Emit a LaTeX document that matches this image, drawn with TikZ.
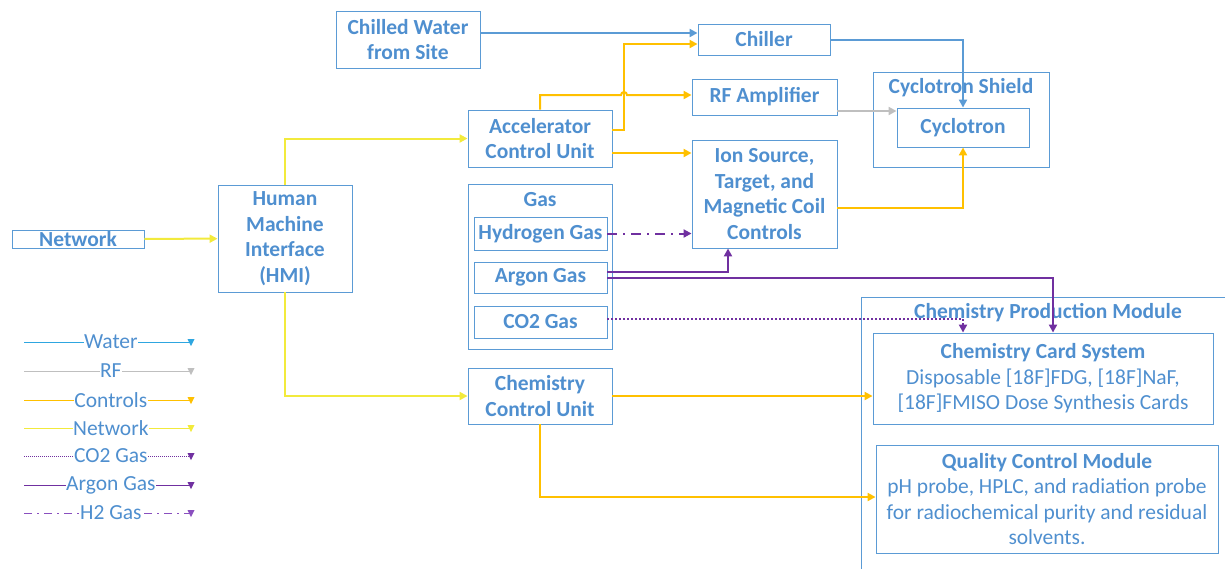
\documentclass[tikz,border=0pt]{standalone}
\usepackage{fontspec}
\setmainfont{Carlito}
\usetikzlibrary{arrows.meta,calc}
\definecolor{boxblue}{HTML}{5B9BD5}
\definecolor{txtblue}{HTML}{4F8FCF}
\definecolor{ctrlc}{HTML}{FFC000}
\definecolor{netc}{HTML}{F2EA3C}
\definecolor{rfc}{HTML}{BFBFBF}
\definecolor{gasc}{HTML}{7030A0}
\definecolor{h2c}{HTML}{8A4FBF}
\definecolor{legwater}{HTML}{2EA6E0}
\tikzset{
  box/.style={draw=boxblue, line width=0.9pt, rectangle, inner sep=0pt, text=txtblue,
     font=\fontsize{21.5}{25.5}\selectfont\bfseries, align=center},
  lbl/.style={text=txtblue, font=\fontsize{21.5}{25.5}\selectfont\bfseries, inner sep=0pt},
  tip/.style={-{Triangle[length=8pt,width=8pt]}},
  water/.style={draw=boxblue, line width=2pt, tip},
  ctrl/.style={draw=ctrlc, line width=2pt, tip},
  netw/.style={draw=netc, line width=2pt, tip},
  rf/.style={draw=rfc, line width=2pt, tip},
  argon/.style={draw=gasc, line width=2pt, tip},
  co2/.style={draw=gasc, line width=2pt, dotted, tip},
  htwo/.style={draw=gasc, line width=2pt, dash pattern=on 10pt off 6pt on 2pt off 6pt, tip},
  legsolid/.style={},
  legdot/.style={densely dotted},
  legdash/.style={dash pattern=on 8pt off 5pt on 2pt off 5pt},
  legtext/.style={fill=white, text=txtblue, font=\fontsize{21.5}{22}\selectfont, inner sep=0.5pt}
}
\begin{document}
\begin{tikzpicture}[x=1pt,y=-1pt]
\useasboundingbox (0,0) rectangle (1225,568);
% containers
\node[box, minimum width=176, minimum height=95] (shield) at (961,119.5) {};
\node[lbl] (shieldt) at (961,88) {Cyclotron Shield};
\node[box, minimum width=144, minimum height=165] (gas) at (540,266.5) {};
\node[lbl] (gast) at (540,200) {Gas};
\draw[draw=boxblue, line width=0.9pt] (861,600) -- (861,297) -- (1240,297);
\node[lbl] (cpmt) at (1048,313) {Chemistry Production Module};
% boxes
\node[box, minimum width=144, minimum height=57] (cw) at (408,39.5) {Chilled Water\\from Site};
\node[box, minimum width=132, minimum height=31] (chiller) at (764,39.5) {Chiller};
\node[box, minimum width=145, minimum height=36] (rfamp) at (764.5,97) {RF Amplifier};
\node[box, minimum width=144, minimum height=57] (acu) at (540,138.5) {Accelerator\\Control Unit};
\node[box, minimum width=132, minimum height=39] (cyc) at (963,127.5) {Cyclotron};
\node[box, minimum width=145, minimum height=108] (ion) at (764.5,194) {Ion Source,\\Target, and\\Magnetic Coil\\Controls};
\node[box, minimum width=133, minimum height=33] (h2) at (540.5,233.5) {Hydrogen Gas};
\node[box, minimum width=133, minimum height=31] (ar) at (540.5,277.5) {Argon Gas};
\node[box, minimum width=133, minimum height=32] (co2) at (540.5,322) {CO2 Gas};
\node[box, minimum width=134, minimum height=107] (hmi) at (285,238.5) {Human\\Machine\\Interface\\(HMI)};
\node[box, minimum width=132, minimum height=18] (net) at (78,239) {Network};
\node[box, minimum width=144, minimum height=56] (ccu) at (540,396) {Chemistry\\Control Unit};
\node[box, minimum width=340, minimum height=91] (card) at (1043,378.5) {Chemistry Card System\\\mdseries Disposable [18F]FDG, [18F]NaF,\\\mdseries [18F]FMISO Dose Synthesis Cards};
\node[box, minimum width=342, minimum height=108] (qc) at (1047,499) {Quality Control Module\\\mdseries pH probe, HPLC, and radiation probe\\\mdseries for radiochemical purity and residual\\\mdseries solvents.};
% connectors
\coordinate (hop) at (621,95);
\draw[netw] (net) -- (hmi);
\draw[netw] (hmi.north) |- (acu.west);
\draw[netw] (hmi.south) |- (ccu.west);
\draw[water] ([yshift=6.5pt]cw.east) -- ([yshift=6.5pt]chiller.west);
\draw[water] (chiller.east) -| (cyc.north);
\draw[ctrl] ([yshift=8.5pt]acu.east) -- ++(12,0) |- ([yshift=-4.5pt]chiller.west);
\draw[ctrl] (acu.north) |- (hop)
   arc[start angle=180, end angle=0, radius=3pt] -- (rfamp.west |- hop);
\draw[ctrl] ([yshift=-14.5pt]acu.east) -- ([yshift=-14.5pt]acu.east -| ion.west);
\draw[ctrl] ([yshift=-14pt]ion.east) -| (cyc.south);
\draw[rf] ([yshift=-14pt]rfamp.east) -- ([yshift=-14pt]rfamp.east -| cyc.west);
\draw[htwo] (h2.east) -- (h2.east -| ion.west);
\draw[argon] ([yshift=5.5pt]ar.east) -| ([xshift=-36.5pt]ion.south);
\draw[argon] (ar.east) -| ([xshift=10pt]card.north);
\draw[co2] ([yshift=3pt]co2.east) -| ([xshift=-80pt]card.north);
\draw[ctrl] (ccu.east) -- (ccu.east -| card.west);
\draw[ctrl] (ccu.south) |- ([yshift=2pt]qc.west);
% legend
\foreach \y/\nm/\col/\sty/\txt in {342/w/legwater/legsolid/Water, 371/r/rfc/legsolid/RF, 400/c/ctrlc/legsolid/Controls, 428/n/netc/legsolid/Network, 456/o/gasc/legdot/CO2 Gas, 485/a/gasc/legsolid/Argon Gas, 513/h/h2c/legdash/H2 Gas}{
  \coordinate (l\nm1) at (24,\y);
  \coordinate (l\nm2) at (191,\y);
  \draw[draw=\col, line width=1pt, \sty] (l\nm1) -- (l\nm2) node[pos=0.52, legtext] (lt\nm) {\txt};
  \fill[\col] ($(l\nm2)+(-3.5,-3)$) -- ++(7,0) -- ++(-3.5,7) -- cycle;
}
\end{tikzpicture}
\end{document}
